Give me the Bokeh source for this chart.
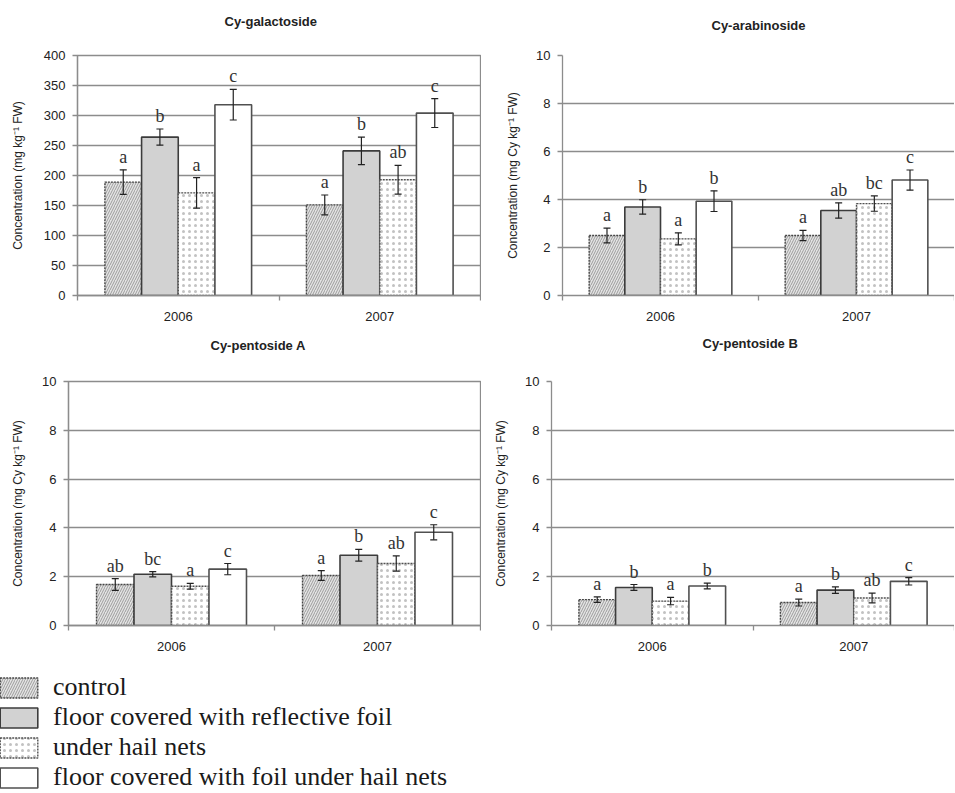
from bokeh.plotting import figure
from bokeh.models import (Range1d, FixedTicker, ColumnDataSource, Legend, LegendItem, Title)
from bokeh.transform import dodge
from bokeh.layouts import column, row
from bokeh.embed import file_html
from bokeh.resources import INLINE

# ---------------- data ----------------
years = ["2006", "2007"]
treatments = ["control", "floor covered with reflective foil", "under hail nets",
              "floor covered with foil under hail nets"]

titles = ["Cy-galactoside", "Cy-arabinoside", "Cy-pentoside A", "Cy-pentoside B"]
y_labels = ["Concentration (mg kg\u207b\u00b9 FW)",
            "Concentration (mg Cy kg\u207b\u00b9 FW)",
            "Concentration (mg Cy kg\u207b\u00b9 FW)",
            "Concentration (mg Cy kg\u207b\u00b9 FW)"]
y_max = [400, 10, 10, 10]
y_step = [50, 2, 2, 2]

# rows: treatments (control, foil, hail nets, foil + hail nets); columns: years
gal_mean = [[189, 151], [264, 241], [171, 193], [318, 304]]
gal_err = [[20.5, 16.5], [13.5, 23], [25.5, 24], [25.5, 24]]
gal_sig = [["a", "a"], ["b", "b"], ["a", "ab"], ["c", "c"]]

ara_mean = [[2.50, 2.50], [3.69, 3.54], [2.36, 3.83], [3.93, 4.81]]
ara_err = [[0.31, 0.21], [0.30, 0.32], [0.25, 0.32], [0.43, 0.42]]
ara_sig = [["a", "a"], ["b", "ab"], ["a", "bc"], ["b", "c"]]

pa_mean = [[1.68, 2.05], [2.10, 2.88], [1.61, 2.54], [2.31, 3.82]]
pa_err = [[0.24, 0.20], [0.11, 0.24], [0.12, 0.31], [0.23, 0.31]]
pa_sig = [["ab", "a"], ["bc", "b"], ["a", "ab"], ["c", "c"]]

pb_mean = [[1.06, 0.94], [1.56, 1.45], [1.00, 1.13], [1.62, 1.81]]
pb_err = [[0.11, 0.14], [0.12, 0.13], [0.15, 0.20], [0.12, 0.15]]
pb_sig = [["a", "a"], ["b", "b"], ["a", "ab"], ["b", "c"]]

# ---------------- styles ----------------
GRID = "#8c8c8c"
SANS = "Liberation Sans"
SERIF = "Liberation Serif"
BAR_W = 0.182

styles = [
    dict(fill_color="#e4e4e4", hatch_pattern="/", hatch_color="#9c9c9c", hatch_scale=5,
         hatch_weight=1.0, line_color="#454545", line_width=1.4, line_dash="2 1"),
    dict(fill_color="#d2d2d2", line_color="#3c3c3c", line_width=1.6),
    dict(fill_color="white", hatch_pattern=".", hatch_color="#c2c2c2", hatch_scale=6,
         hatch_weight=0.8, line_color="#505050", line_width=1.4, line_dash="2 1"),
    dict(fill_color="white", line_color="#505050", line_width=1.6),
]


def make_panel(k, mean, err, sig, width, height, mb, title_offset, title_gap,
               label_standoff, outline):
    ncat = len(years)
    p = figure(width=width, height=height, x_range=Range1d(0, ncat),
               y_range=Range1d(0, y_max[k]),
               toolbar_location=None, output_backend="svg",
               min_border_left=mb[0], min_border_right=mb[1], min_border_top=mb[2],
               min_border_bottom=mb[3], background_fill_color="white",
               border_fill_color="white")
    p.outline_line_color = GRID if outline else None
    p.outline_line_width = 1.3
    p.xgrid.visible = False

    ticks = list(range(0, y_max[k] + 1, y_step[k]))
    p.yaxis.ticker = FixedTicker(ticks=ticks)
    p.ygrid.ticker = FixedTicker(ticks=ticks)
    p.ygrid.grid_line_color = GRID
    p.ygrid.grid_line_width = 1.3
    p.yaxis.axis_line_color = GRID
    p.yaxis.axis_line_width = 1.3
    p.yaxis.major_tick_line_color = GRID
    p.yaxis.major_tick_line_width = 1.3
    p.yaxis.major_tick_out = 5
    p.yaxis.major_tick_in = 0
    p.yaxis.minor_tick_line_color = None
    p.yaxis.major_label_text_font = SANS
    p.yaxis.major_label_text_font_size = "13px"
    p.yaxis.major_label_text_color = "#222222"
    p.yaxis.major_label_standoff = 7
    p.yaxis.axis_label = y_labels[k]
    p.yaxis.axis_label_text_font = SANS
    p.yaxis.axis_label_text_font_size = "12px"
    p.yaxis.axis_label_text_font_style = "normal"
    p.yaxis.axis_label_text_color = "#222222"
    p.yaxis.axis_label_standoff = label_standoff

    # x axis: category boundaries as small ticks, years as labels at the centres
    centres = [j + 0.5 for j in range(ncat)]
    xa = p.xaxis[0]
    xa.ticker = FixedTicker(ticks=centres, minor_ticks=list(range(ncat + 1)))
    xa.major_label_overrides = {c: y for c, y in zip(centres, years)}
    xa.axis_line_color = GRID
    xa.axis_line_width = 1.3
    xa.major_tick_line_color = None
    xa.major_tick_out = 0
    xa.major_tick_in = 0
    xa.minor_tick_line_color = GRID
    xa.minor_tick_line_width = 1.3
    xa.minor_tick_out = 5
    xa.minor_tick_in = 0
    xa.major_label_text_font = SANS
    xa.major_label_text_font_size = "13px"
    xa.major_label_text_color = "#222222"
    xa.major_label_standoff = 11

    # title (outermost) with an empty spacer title between it and the frame
    p.title.text = titles[k]
    p.title.align = "left"
    p.title.offset = title_offset
    p.title.standoff = 4
    p.title.text_font = SANS
    p.title.text_font_size = "13px"
    p.title.text_font_style = "bold"
    p.title.text_color = "#222222"
    p.add_layout(Title(text=" ", text_font_size="1px", standoff=title_gap), "above")

    n = len(treatments)
    for i in range(n):
        off = (i - (n - 1) / 2) * BAR_W
        src = ColumnDataSource(dict(
            pos=centres, val=mean[i],
            lo=[m - e for m, e in zip(mean[i], err[i])],
            hi=[m + e for m, e in zip(mean[i], err[i])],
            sig=sig[i]))
        xs = dodge("pos", off)
        p.vbar(x=xs, top="val", bottom=0, width=BAR_W, source=src, **styles[i])
        p.segment(x0=xs, x1=xs, y0="lo", y1="hi", source=src, line_color="#222222",
                  line_width=1.2)
        p.scatter(x=xs, y="hi", marker="dash", size=7, source=src, line_color="#222222",
                  line_width=1.2)
        p.scatter(x=xs, y="lo", marker="dash", size=7, source=src, line_color="#222222",
                  line_width=1.2)
        p.text(x=xs, y="hi", text="sig", source=src, text_align="center",
               text_baseline="bottom", y_offset=-3, text_font={"value": SERIF},
               text_font_size="18px", text_color="#333333")
    return p


# row 1: frames 55..295 ; row 2: frames 381..625
p1 = make_panel(0, gal_mean, gal_err, gal_sig, 481, 327, (77, 1, 55, 32), 147, 21.5, 16, True)
p2 = make_panel(1, ara_mean, ara_err, ara_sig, 473, 327, (81, 0, 55, 32), 149, 17.5, 13, False)
p3 = make_panel(2, pa_mean, pa_err, pa_sig, 481, 330, (68, 1, 54, 32), 142, 23.5, 14, True)
p4 = make_panel(3, pb_mean, pb_err, pb_sig, 473, 330, (70, 0, 54, 32), 151, 25.5, 14, False)

# ---------------- legend ----------------
pl = figure(width=481, height=135, x_range=Range1d(0, 1), y_range=Range1d(0, 1),
            x_axis_location=None, y_axis_location=None, toolbar_location=None,
            output_backend="svg", min_border_left=0, min_border_right=0,
            min_border_top=0, min_border_bottom=0, outline_line_color=None)
pl.xgrid.visible = False
pl.ygrid.visible = False
items = []
for i, t in enumerate(treatments):
    # legend proxies: a bar with no height, so only the legend swatch shows
    r = pl.vbar(x=[0.5], top=[float("nan")], width=0.1, **styles[i])
    items.append(LegendItem(label=t, renderers=[r]))
leg = Legend(items=items, location=(-5, 0), margin=0, padding=0, spacing=0,
             glyph_width=47, glyph_height=25, label_standoff=11, label_height=20,
             label_text_font=SERIF, label_text_font_size="26px",
             label_text_color="#1a1a1a", border_line_color=None,
             background_fill_alpha=0)
pl.add_layout(leg)

layout = column(row(p1, p2), row(p3, p4), pl)
open("out.html", "w").write(file_html(layout, INLINE))
